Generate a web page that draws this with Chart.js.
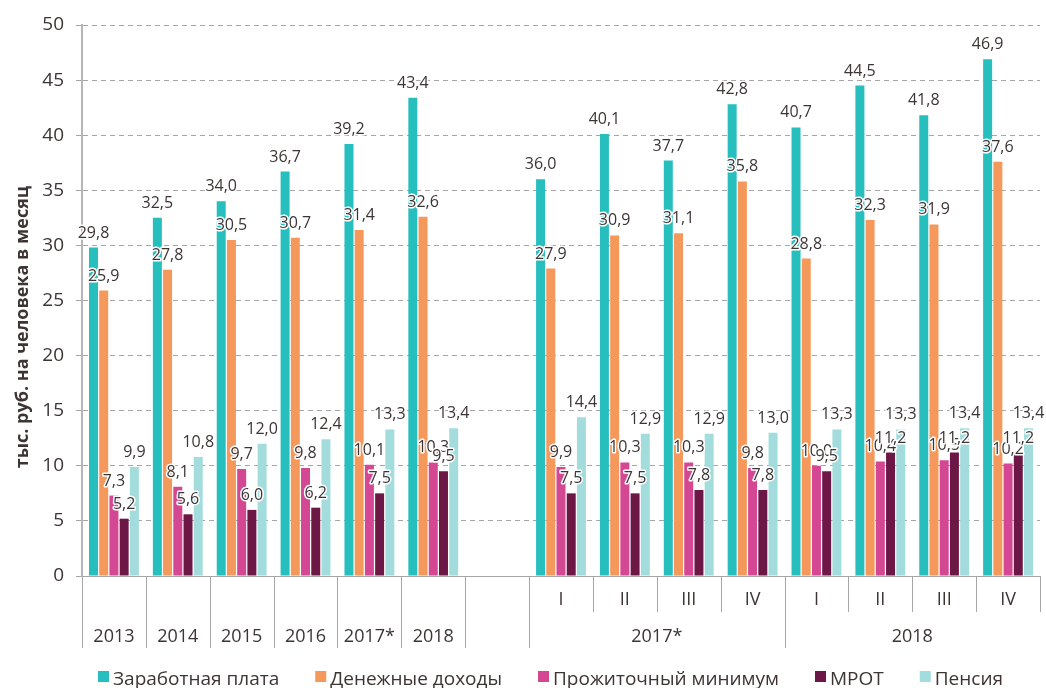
<!DOCTYPE html>
<html lang="ru">
<head>
<meta charset="utf-8">
<title>Доходы населения</title>
<script src="https://cdn.jsdelivr.net/npm/chart.js@4/dist/chart.umd.min.js"></script>
<style>
  html, body { margin: 0; padding: 0; background: #fff; }
  #wrap { width: 1046px; height: 688px; }
</style>
</head>
<body>
<div id="wrap"><canvas id="chart" width="1046" height="688"></canvas></div>
<script>
// top row labels (quarters), bottom row labels (years); index 6 is the empty gap
const quarterLabels = ['', '', '', '', '', '', '', 'I', 'II', 'III', 'IV', 'I', 'II', 'III', 'IV'];
const yearLabels = ['2013', '2014', '2015', '2016', '2017*', '2018', '', '', '', '', '', '', '', '', ''];
const groupLabels = ['2017*', '2018'];
const yTitle = 'тыс. руб. на человека в месяц';

const wages = [29.8, 32.5, 34.0, 36.7, 39.2, 43.4, null, 36.0, 40.1, 37.7, 42.8, 40.7, 44.5, 41.8, 46.9];
const income = [25.9, 27.8, 30.5, 30.7, 31.4, 32.6, null, 27.9, 30.9, 31.1, 35.8, 28.8, 32.3, 31.9, 37.6];
const minimum = [7.3, 8.1, 9.7, 9.8, 10.1, 10.3, null, 9.9, 10.3, 10.3, 9.8, 10.0, 10.4, 10.5, 10.2];
const mrot = [5.2, 5.6, 6.0, 6.2, 7.5, 9.5, null, 7.5, 7.5, 7.8, 7.8, 9.5, 11.2, 11.2, 11.2];
const pension = [9.9, 10.8, 12.0, 12.4, 13.3, 13.4, null, 14.4, 12.9, 12.9, 13.0, 13.3, 13.3, 13.4, 13.4];

const FONT = '"Open Sans", "Noto Sans", sans-serif';
const TEXT = '#3d3434';
const LINE = '#a6a6a6';

// value labels drawn above each bar, with a thin white halo
const valueLabels = {
  id: 'valueLabels',
  afterDatasetsDraw(chart) {
    const ctx = chart.ctx;
    ctx.save();
    ctx.font = '16px ' + FONT;
    ctx.textAlign = 'center';
    ctx.textBaseline = 'alphabetic';
    ctx.fillStyle = TEXT;
    ctx.strokeStyle = '#fff';
    ctx.lineWidth = 3;
    ctx.lineJoin = 'round';
    chart.data.datasets.forEach((ds, i) => {
      chart.getDatasetMeta(i).data.forEach((bar, j) => {
        const v = ds.data[j];
        if (v == null) return;
        const text = v.toFixed(1).replace('.', ',');
        ctx.strokeText(text, bar.x, bar.y - 10);
        ctx.fillText(text, bar.x, bar.y - 10);
      });
    });
    ctx.restore();
  },
};

// two-row category axis, rotated y title and the legend row
const decorations = {
  id: 'decorations',
  afterDraw(chart) {
    const ctx = chart.ctx;
    const x = chart.scales.x;
    const n = wages.length;
    const { bottom } = chart.chartArea;
    const edge = (i) => {
      if (i === 0) return x.left;
      if (i === n) return x.right;
      return (x.getPixelForValue(i - 1) + x.getPixelForValue(i)) / 2;
    };
    const tall = [0, 1, 2, 3, 4, 5, 6, 7, 11];
    ctx.save();
    ctx.strokeStyle = LINE;
    ctx.lineWidth = 1;
    for (let i = 0; i <= n; i++) {
      const px = Math.round(edge(i)) + 0.5;
      ctx.beginPath();
      ctx.moveTo(px, bottom);
      ctx.lineTo(px, tall.includes(i) ? bottom + 72 : bottom + 36);
      ctx.stroke();
    }
    ctx.font = '18px ' + FONT;
    ctx.fillStyle = TEXT;
    ctx.textAlign = 'center';
    ctx.textBaseline = 'middle';
    for (let i = 0; i < n; i++) {
      const cx = x.getPixelForValue(i);
      if (quarterLabels[i]) ctx.fillText(quarterLabels[i], cx, bottom + 24);
      if (yearLabels[i]) ctx.fillText(yearLabels[i], cx, bottom + 61);
    }
    ctx.fillText(groupLabels[0], edge(9), bottom + 61);
    ctx.fillText(groupLabels[1], edge(13), bottom + 61);

    // legend: square, then label, then a fixed gap
    ctx.font = '19px ' + FONT;
    ctx.textAlign = 'left';
    ctx.textBaseline = 'alphabetic';
    let lx = 98;
    chart.data.datasets.forEach((ds) => {
      ctx.fillStyle = ds.backgroundColor;
      ctx.fillRect(lx, 671, 11, 11);
      ctx.fillStyle = TEXT;
      ctx.fillText(ds.label, lx + 15, 685);
      lx += 15 + ctx.measureText(ds.label).width + 36;
    });

    ctx.save();
    ctx.translate(23, 327);
    ctx.rotate(-Math.PI / 2);
    ctx.font = 'bold 18px ' + FONT;
    ctx.textAlign = 'center';
    ctx.textBaseline = 'middle';
    ctx.fillText(yTitle, 0, 0);
    ctx.restore();
    ctx.restore();
  },
};

new Chart(document.getElementById('chart'), {
  type: 'bar',
  data: {
    labels: quarterLabels.map((q, i) => q || yearLabels[i] || ' '),
    datasets: [
      { label: 'Заработная плата', data: wages, backgroundColor: '#27bebe' },
      { label: 'Денежные доходы', data: income, backgroundColor: '#f5985b' },
      { label: 'Прожиточный минимум', data: minimum, backgroundColor: '#d44793' },
      { label: 'МРОТ', data: mrot, backgroundColor: '#6d1746' },
      { label: 'Пенсия', data: pension, backgroundColor: '#a3dcdc' },
    ],
  },
  options: {
    responsive: false,
    animation: false,
    layout: { padding: { top: 25, right: 6, left: 0, bottom: 40 } },
    datasets: { bar: { categoryPercentage: 0.8, barPercentage: 0.88 } },
    plugins: {
      legend: { display: false },
      tooltip: { enabled: false },
    },
    scales: {
      x: {
        afterFit: (s) => { s.height = 72; },
        grid: { display: false },
        border: { display: true, color: LINE, width: 1 },
        ticks: { display: false },
      },
      y: {
        min: 0,
        max: 50,
        afterFit: (s) => { s.width = 82; },
        ticks: {
          stepSize: 5,
          font: { family: FONT, size: 19 },
          color: TEXT,
          padding: 12,
        },
        grid: { color: LINE, tickLength: 6, lineWidth: 1 },
        border: { display: true, color: '#b5b5b5', width: 2, dash: [5, 4] },
      },
    },
  },
  plugins: [valueLabels, decorations],
});
</script>
</body>
</html>
